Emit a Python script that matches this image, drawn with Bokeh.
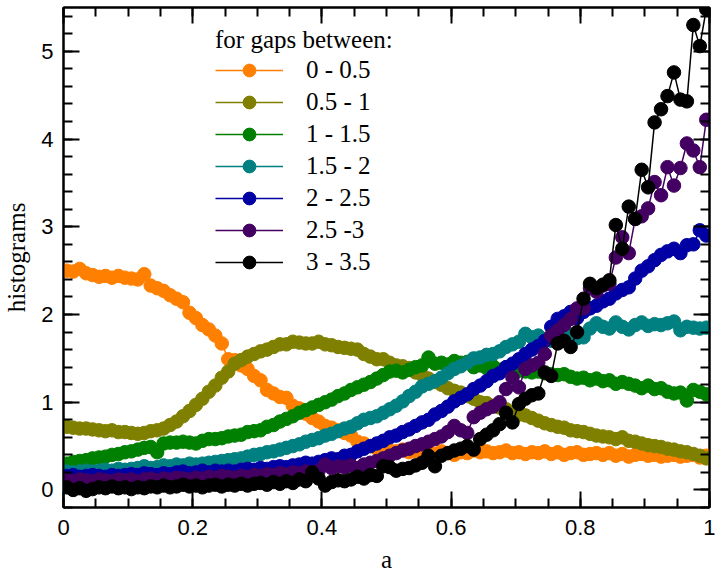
from bokeh.plotting import figure
from bokeh.models import LinearAxis, FixedTicker, Range1d, Legend, LegendItem
from bokeh.embed import file_html
from bokeh.resources import INLINE

# bin centres of the histogram (100 bins on [0, 1])
n_bins = 100
a_centres = [round((i + 0.5) / n_bins, 3) for i in range(n_bins)]

series_names = ["0 - 0.5", "0.5 - 1", "1 - 1.5", "1.5 - 2", "2 - 2.5", "2.5 -3", "3 - 3.5"]
series_colors = ["#ff8000", "#808000", "#008000", "#008080", "#0000a4", "#430062", "#000000"]

h_0_05 = [2.50, 2.49, 2.52, 2.47, 2.45, 2.43, 2.44, 2.42, 2.44, 2.42,
          2.41, 2.40, 2.46, 2.33, 2.30, 2.27, 2.22, 2.18, 2.14, 2.02,
          1.96, 1.88, 1.83, 1.76, 1.67, 1.49, 1.48, 1.42, 1.38, 1.30,
          1.25, 1.14, 1.10, 1.06, 1.05, 0.96, 0.93, 0.87, 0.82, 0.78,
          0.73, 0.71, 0.68, 0.65, 0.62, 0.55, 0.53, 0.50, 0.47, 0.46,
          0.45, 0.44, 0.46, 0.43, 0.44, 0.42, 0.45, 0.41, 0.44, 0.42,
          0.40, 0.43, 0.42, 0.45, 0.43, 0.44, 0.42, 0.43, 0.45, 0.42,
          0.43, 0.41, 0.43, 0.42, 0.44, 0.41, 0.43, 0.40, 0.42, 0.43,
          0.40, 0.41, 0.42, 0.40, 0.42, 0.39, 0.41, 0.38, 0.40, 0.41,
          0.39, 0.40, 0.38, 0.39, 0.40, 0.38, 0.39, 0.40, 0.37, 0.39]

h_05_1 = [0.72, 0.71, 0.70, 0.70, 0.69, 0.68, 0.67, 0.68, 0.66, 0.66,
          0.65, 0.64, 0.65, 0.67, 0.68, 0.70, 0.74, 0.78, 0.84, 0.90,
          0.97, 1.04, 1.12, 1.19, 1.28, 1.35, 1.44, 1.48, 1.52, 1.55,
          1.58, 1.60, 1.63, 1.66, 1.66, 1.69, 1.68, 1.67, 1.67, 1.69,
          1.66, 1.65, 1.63, 1.62, 1.61, 1.60, 1.55, 1.52, 1.49, 1.49,
          1.45, 1.42, 1.41, 1.39, 1.34, 1.31, 1.27, 1.23, 1.20, 1.16,
          1.13, 1.11, 1.07, 1.04, 1.00, 0.99, 0.96, 0.94, 0.92, 0.88,
          0.86, 0.85, 0.82, 0.79, 0.76, 0.74, 0.72, 0.71, 0.68, 0.67,
          0.66, 0.64, 0.62, 0.61, 0.60, 0.58, 0.60, 0.56, 0.55, 0.53,
          0.51, 0.50, 0.49, 0.47, 0.46, 0.44, 0.43, 0.41, 0.39, 0.36]

h_1_15 = [0.30, 0.32, 0.33, 0.34, 0.36, 0.37, 0.38, 0.40, 0.41, 0.43,
          0.44, 0.46, 0.48, 0.49, 0.43, 0.53, 0.54, 0.54, 0.55, 0.54,
          0.53, 0.56, 0.58, 0.58, 0.59, 0.61, 0.62, 0.63, 0.66, 0.67,
          0.68, 0.72, 0.74, 0.78, 0.81, 0.84, 0.88, 0.91, 0.94, 0.97,
          1.00, 1.03, 1.07, 1.10, 1.14, 1.17, 1.20, 1.23, 1.27, 1.31,
          1.35, 1.36, 1.34, 1.37, 1.40, 1.42, 1.51, 1.44, 1.45, 1.43,
          1.47, 1.45, 1.46, 1.40, 1.42, 1.39, 1.41, 1.37, 1.40, 1.38,
          1.36, 1.35, 1.34, 1.35, 1.33, 1.32, 1.31, 1.32, 1.29, 1.27,
          1.28, 1.25, 1.27, 1.24, 1.25, 1.21, 1.23, 1.21, 1.19, 1.16,
          1.19, 1.15, 1.16, 1.12, 1.10, 1.11, 1.02, 1.14, 1.12, 1.09]

h_15_2 = [0.21, 0.20, 0.21, 0.22, 0.21, 0.22, 0.23, 0.22, 0.24, 0.23,
          0.24, 0.25, 0.27, 0.25, 0.26, 0.28, 0.27, 0.29, 0.28, 0.30,
          0.29, 0.30, 0.31, 0.32, 0.33, 0.34, 0.35, 0.36, 0.38, 0.40,
          0.41, 0.43, 0.44, 0.46, 0.48, 0.50, 0.52, 0.55, 0.57, 0.59,
          0.62, 0.64, 0.67, 0.70, 0.72, 0.76, 0.80, 0.82, 0.84, 0.88,
          0.92, 0.96, 1.01, 1.07, 1.12, 1.18, 1.21, 1.24, 1.28, 1.33,
          1.38, 1.41, 1.45, 1.50, 1.51, 1.54, 1.55, 1.58, 1.63, 1.66,
          1.69, 1.78, 1.74, 1.76, 1.72, 1.70, 1.80, 1.83, 1.77, 1.73,
          1.74, 1.84, 1.90, 1.86, 1.84, 1.91, 1.86, 1.83, 1.88, 1.91,
          1.87, 1.89, 1.88, 1.90, 1.92, 1.82, 1.86, 1.85, 1.84, 1.85]

h_2_25 = [0.16, 0.17, 0.15, 0.16, 0.17, 0.16, 0.15, 0.17, 0.16, 0.17,
          0.18, 0.17, 0.19, 0.18, 0.17, 0.19, 0.18, 0.20, 0.21, 0.19,
          0.20, 0.22, 0.20, 0.22, 0.21, 0.22, 0.21, 0.23, 0.24, 0.23,
          0.25, 0.24, 0.26, 0.27, 0.26, 0.28, 0.29, 0.31, 0.30, 0.32,
          0.34, 0.36, 0.35, 0.39, 0.40, 0.44, 0.47, 0.50, 0.53, 0.56,
          0.60, 0.62, 0.66, 0.69, 0.73, 0.77, 0.80, 0.86, 0.90, 0.95,
          1.01, 1.05, 1.09, 1.15, 1.19, 1.24, 1.30, 1.33, 1.40, 1.44,
          1.49, 1.55, 1.60, 1.64, 1.70, 1.86, 1.95, 1.98, 2.03, 1.96,
          2.03, 2.07, 2.10, 2.15, 2.18, 2.24, 2.28, 2.31, 2.41, 2.50,
          2.55, 2.62, 2.68, 2.72, 2.75, 2.70, 2.79, 2.80, 2.96, 2.90]

h_25_3 = [0.11, 0.10, 0.12, 0.11, 0.10, 0.12, 0.11, 0.10, 0.12, 0.11,
          0.12, 0.10, 0.12, 0.13, 0.11, 0.13, 0.12, 0.14, 0.13, 0.12,
          0.14, 0.13, 0.15, 0.14, 0.16, 0.15, 0.14, 0.16, 0.15, 0.17,
          0.16, 0.18, 0.17, 0.19, 0.18, 0.20, 0.19, 0.21, 0.20, 0.22,
          0.29, 0.25, 0.27, 0.26, 0.28, 0.25, 0.29, 0.31, 0.33, 0.36,
          0.39, 0.42, 0.45, 0.47, 0.50, 0.52, 0.55, 0.58, 0.61, 0.66,
          0.73, 0.68, 0.65, 0.83, 0.88, 0.92, 0.95, 1.00, 1.15, 1.28,
          1.17, 1.38, 1.42, 1.45, 1.55, 1.76, 1.82, 1.88, 1.95, 2.07,
          2.07, 2.30, 2.26, 2.33, 2.35, 2.65, 2.88, 2.70, 3.09, 3.12,
          3.21, 3.51, 3.36, 3.68, 3.47, 3.67, 3.95, 3.87, 3.68, 4.22]

h_3_35 = [0.03, 0.00, 0.02, -0.01, 0.01, 0.03, 0.02, 0.04, 0.02, 0.03,
          0.01, 0.03, 0.02, 0.04, 0.03, 0.05, 0.03, 0.04, 0.06, 0.04,
          0.05, 0.03, 0.05, 0.06, 0.04, 0.06, 0.05, 0.07, 0.05, 0.07,
          0.08, 0.06, 0.09, 0.07, 0.10, 0.08, 0.12, 0.10, 0.20, 0.13,
          0.05, 0.09, 0.11, 0.10, 0.12, 0.15, 0.13, 0.17, 0.16, 0.27,
          0.26, 0.22, 0.24, 0.25, 0.28, 0.31, 0.39, 0.27, 0.39, 0.42,
          0.45, 0.47, 0.50, 0.46, 0.58, 0.63, 0.68, 0.75, 0.88, 0.77,
          0.98, 1.04, 1.08, 1.10, 1.34, 1.30, 1.67, 1.70, 1.63, 1.80,
          2.18, 2.35, 2.30, 2.34, 2.39, 3.02, 2.75, 3.23, 3.09, 3.65,
          3.45, 4.19, 4.34, 4.49, 4.76, 4.45, 4.43, 5.30, 5.06, 5.48]

series_values = [h_0_05, h_05_1, h_1_15, h_15_2, h_2_25, h_25_3, h_3_35]

x_ticks = [0, 0.2, 0.4, 0.6, 0.8, 1]
x_tick_labels = ["0", "0.2", "0.4", "0.6", "0.8", "1"]
x_minor = [round(0.05 * i, 2) for i in range(21)]
y_ticks = [0, 1, 2, 3, 4, 5]
y_minor = [round(-0.2 + 0.2 * i, 1) for i in range(29)]

SANS = "Liberation Sans"
SERIF = "Liberation Serif"

p = figure(width=715, height=578, x_range=Range1d(0, 1), y_range=Range1d(-0.2, 5.5),
           output_backend="svg", toolbar_location=None,
           min_border_left=62, min_border_right=6, min_border_top=7, min_border_bottom=71)
p.xgrid.visible = False
p.ygrid.visible = False
p.outline_line_color = "black"
p.outline_line_width = 2
p.background_fill_color = "white"
p.border_fill_color = "white"

xt = FixedTicker(ticks=x_ticks, minor_ticks=x_minor)
yt = FixedTicker(ticks=y_ticks, minor_ticks=y_minor)


def style_axis(ax, show_labels):
    ax.axis_line_width = 2
    ax.axis_line_color = "black"
    ax.major_tick_in = 16
    ax.major_tick_out = 0
    ax.minor_tick_in = 9
    ax.minor_tick_out = 0
    ax.major_tick_line_width = 2
    ax.minor_tick_line_width = 2
    ax.major_tick_line_color = "black"
    ax.minor_tick_line_color = "black"
    if show_labels:
        ax.major_label_text_font = SANS
        ax.major_label_text_font_size = "22px"
        ax.major_label_text_color = "black"
    else:
        ax.major_label_text_font_size = "1px"
        ax.major_label_text_color = None
        ax.major_label_standoff = 0


p.xaxis.ticker = xt
p.yaxis.ticker = yt
p.xaxis.major_label_overrides = dict(zip(x_ticks, x_tick_labels))
style_axis(p.xaxis[0], True)
style_axis(p.yaxis[0], True)
p.xaxis.major_label_standoff = 12
p.yaxis.major_label_standoff = 10
p.xaxis.axis_label = "a"
p.yaxis.axis_label = "histograms"
for ax in (p.xaxis[0], p.yaxis[0]):
    ax.axis_label_text_font = SERIF
    ax.axis_label_text_font_size = "25px"
    ax.axis_label_text_font_style = "normal"
    ax.axis_label_text_color = "black"
p.xaxis.axis_label_standoff = 8
p.yaxis.axis_label_standoff = 8

top_axis = LinearAxis(ticker=FixedTicker(ticks=x_ticks, minor_ticks=x_minor))
style_axis(top_axis, False)
p.add_layout(top_axis, "above")
right_axis = LinearAxis(ticker=FixedTicker(ticks=y_ticks, minor_ticks=y_minor))
style_axis(right_axis, False)
p.add_layout(right_axis, "right")

items = []
for name, color, vals in zip(series_names, series_colors, series_values):
    ln = p.line(a_centres, vals, line_color=color, line_width=1.5)
    sc = p.scatter(a_centres, vals, marker="circle", size=13.5, fill_color=color, line_color=color)
    items.append(LegendItem(label=name, renderers=[ln, sc]))

legend = Legend(items=items, location=(152, 229), title="for gaps between:")
legend.title_text_font = SERIF
legend.title_text_font_size = "25px"
legend.title_text_font_style = "normal"
legend.title_text_color = "black"
legend.title_standoff = 0
legend.label_text_font = SERIF
legend.label_text_font_size = "25px"
legend.label_text_color = "black"
legend.glyph_width = 68
legend.glyph_height = 32
legend.label_height = 32
legend.label_standoff = 23
legend.spacing = 0
legend.padding = 0
legend.margin = 0
legend.border_line_color = None
legend.background_fill_alpha = 0
p.add_layout(legend)

open("out.html", "w").write(file_html(p, INLINE))
